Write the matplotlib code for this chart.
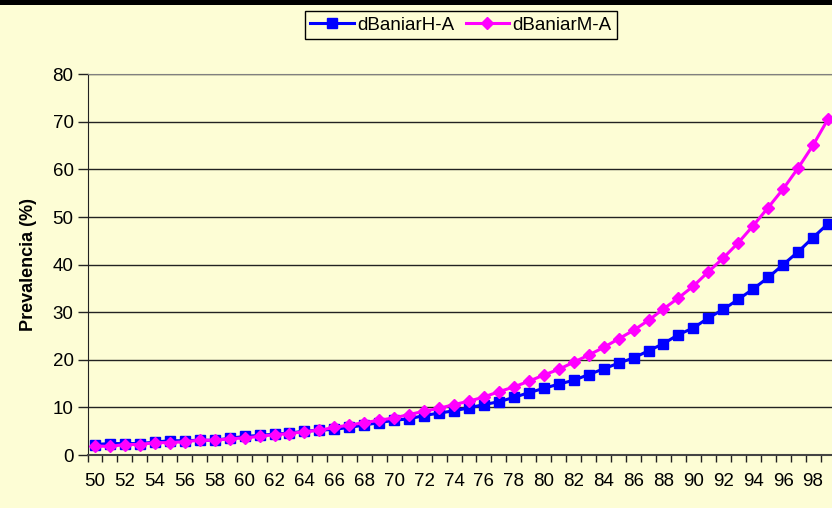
import matplotlib
matplotlib.use("Agg")
import matplotlib.pyplot as plt
from matplotlib.patches import Rectangle
import numpy as np

# edades 50-99
edades = list(range(50, 100))

# prevalencia (%)
dBaniarH = [2.2, 2.4, 2.4, 2.4, 2.7, 3.0, 3.0, 3.1, 3.1, 3.5,
            3.9, 4.1, 4.4, 4.6, 5.0, 5.2, 5.4, 5.8, 6.3, 6.8,
            7.3, 7.6, 8.3, 8.8, 9.3, 9.9, 10.6, 11.2, 12.1, 13.1,
            14.0, 14.9, 15.7, 16.9, 18.1, 19.3, 20.4, 21.9, 23.4, 25.3,
            26.7, 28.8, 30.6, 32.7, 34.9, 37.3, 40.0, 42.7, 45.7, 48.6]
dBaniarM = [1.9, 1.8, 2.2, 2.2, 2.6, 2.6, 2.8, 3.1, 3.1, 3.4,
            3.6, 3.9, 4.3, 4.5, 4.9, 5.2, 5.8, 6.3, 6.8, 7.3,
            7.8, 8.5, 9.2, 9.8, 10.6, 11.3, 12.2, 13.3, 14.3, 15.5,
            16.8, 18.0, 19.5, 21.0, 22.6, 24.4, 26.2, 28.3, 30.7, 33.0,
            35.5, 38.5, 41.4, 44.6, 48.2, 52.0, 55.9, 60.3, 65.1, 70.6]

fondo = "#FDFDD5"
plt.rcParams["font.family"] = ["Liberation Sans", "DejaVu Sans"]

fig = plt.figure(figsize=(8.32, 5.08), dpi=100, facecolor=fondo)
ax = fig.add_axes([87.5 / 832, 53 / 508, 748 / 832, 380.7 / 508])
ax.set_facecolor(fondo)

# barra negra arriba
fig.add_artist(Rectangle((0, 1 - 5 / 508), 1, 5 / 508, transform=fig.transFigure,
                         facecolor="black", edgecolor="none"))

x = np.arange(len(edades))
ax.plot(x, dBaniarH, color="#0000FF", lw=2.2, marker="s", ms=7,
        label="dBaniarH-A", clip_on=False, zorder=3)
ax.plot(x, dBaniarM, color="#FF00FF", lw=2.2, marker="D", ms=6.5,
        label="dBaniarM-A", clip_on=False, zorder=4)

ax.set_xlim(-0.5, len(edades) - 0.5)
ax.set_ylim(0, 80)
ax.set_yticks(range(0, 81, 10))
ax.set_xticks(x[::2])
ax.set_xticklabels([str(e) for e in edades[::2]])
ax.set_xticks(np.arange(len(edades) + 1) - 0.5, minor=True)
ax.tick_params(axis="x", which="major", length=0, pad=13, labelsize=13.5)
ax.tick_params(axis="x", which="minor", length=5, width=1, direction="out", color="#222222")
ax.tick_params(axis="y", length=7, width=1, pad=3, labelsize=13.5, color="#222222")

ax.yaxis.grid(True, color="#222222", lw=1)
ax.set_axisbelow(True)
ax.spines["right"].set_visible(False)
ax.spines["top"].set_color("#808080")
ax.spines["left"].set_color("#222222")
ax.spines["bottom"].set_color("#444444")
ax.spines["bottom"].set_linewidth(1.5)

ax.set_ylabel("Prevalencia (%)", fontsize=13, fontweight="bold", labelpad=11)

leg = fig.legend(loc="center", bbox_to_anchor=(461 / 832, 1 - 25 / 508), ncol=2,
                 fontsize=13.5, frameon=True, fancybox=False, edgecolor="black",
                 facecolor=fondo, framealpha=1, handlelength=2.3,
                 handletextpad=0.2, columnspacing=0.6, borderpad=0.3)
leg.get_frame().set_linewidth(1)

fig.savefig("out.png", dpi=100, facecolor=fondo)
